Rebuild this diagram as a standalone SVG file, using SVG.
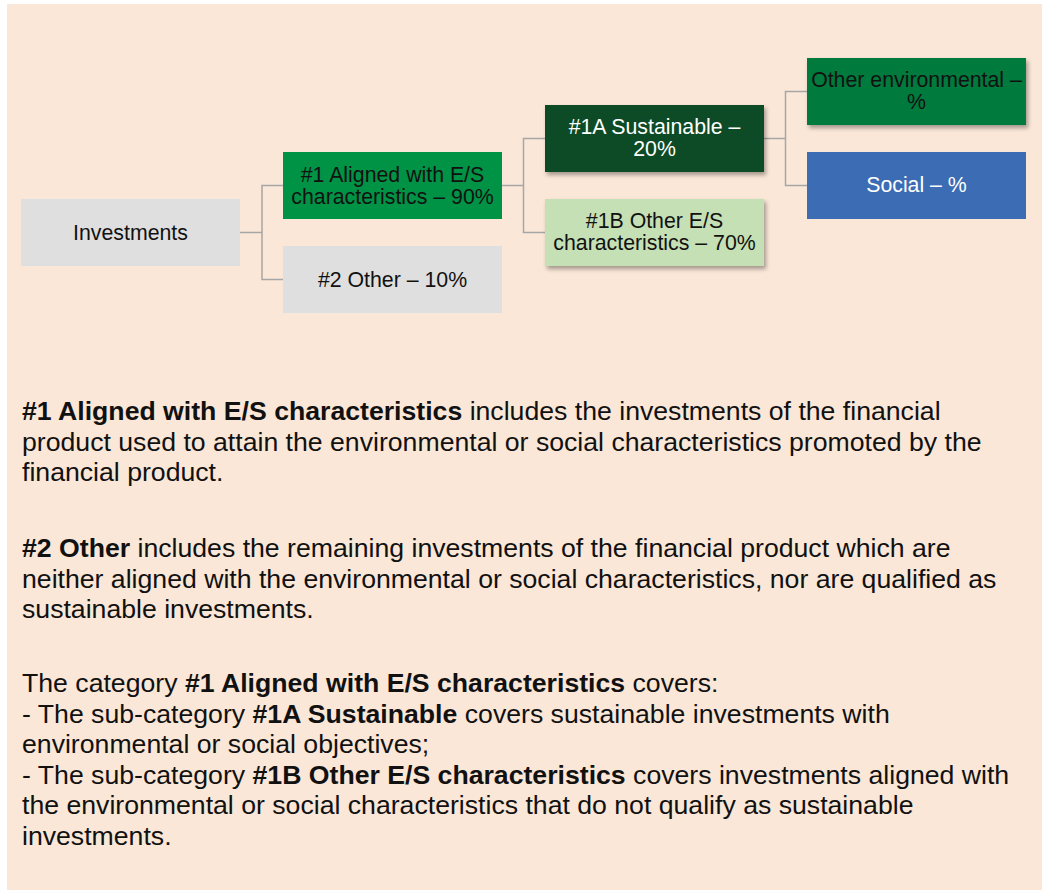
<svg xmlns="http://www.w3.org/2000/svg" width="1042" height="890" viewBox="0 0 1042 890">
  <defs>
    <filter id="shadow" x="-10%" y="-20%" width="130%" height="150%">
      <feDropShadow dx="2" dy="3" stdDeviation="2" flood-color="#000" flood-opacity="0.35"/>
    </filter>
  </defs>
  <style>
    .box { stroke: none; }
    .lbl { font-family: "Liberation Sans", Arial, sans-serif; font-size: 21.3px; text-anchor: middle; fill: #111; }
    .lbl.w { fill: #fff; }
    .body { font-family: "Liberation Sans", Arial, sans-serif; font-size: 26.65px; fill: #111; }
    .b { font-weight: bold; }
    .conn { fill: none; stroke: #A6A6A6; stroke-width: 1.5; }
  </style>
  <rect x="0" y="0" width="1042" height="890" fill="#ffffff"/>
  <rect x="7" y="4" width="1035" height="886" fill="#FAE7D7"/>

  <g id="connectors">
    <polyline class="conn" points="240,232.5 262,232.5"/>
    <polyline class="conn" points="283,185.5 262,185.5 262,279.5 283,279.5"/>
    <polyline class="conn" points="502,185.5 523.5,185.5"/>
    <polyline class="conn" points="545,138.5 523.5,138.5 523.5,232.5 545,232.5"/>
    <polyline class="conn" points="764,138.5 785.5,138.5"/>
    <polyline class="conn" points="807,91.5 785.5,91.5 785.5,185.5 807,185.5"/>
  </g>

  <g id="investments">
    <rect class="box" x="21" y="199" width="219" height="67" fill="#DFDFDF"/>
    <text class="lbl" x="130.5" y="239.5">Investments</text>
  </g>
  <g id="aligned">
    <rect class="box" x="283" y="152" width="219" height="67" fill="#009345"/>
    <text class="lbl" x="392.5" y="181.5">#1 Aligned with E/S</text>
    <text class="lbl" x="392.5" y="203.5">characteristics – 90%</text>
  </g>
  <g id="other">
    <rect class="box" x="283" y="246" width="219" height="67" fill="#DFDFDF"/>
    <text class="lbl" x="392.5" y="286.5">#2 Other – 10%</text>
  </g>
  <g id="sustainable">
    <rect class="box" x="545" y="105" width="219" height="67" fill="#0B4C28" filter="url(#shadow)"/>
    <text class="lbl w" x="654.5" y="134">#1A Sustainable –</text>
    <text class="lbl w" x="654.5" y="156">20%</text>
  </g>
  <g id="other-es">
    <rect class="box" x="545" y="199" width="219" height="67" fill="#C5E0B4" filter="url(#shadow)"/>
    <text class="lbl" x="654.5" y="228">#1B Other E/S</text>
    <text class="lbl" x="654.5" y="250">characteristics – 70%</text>
  </g>
  <g id="other-env">
    <rect class="box" x="807" y="58" width="219" height="67" fill="#057A3D" filter="url(#shadow)"/>
    <text class="lbl" x="916.5" y="87">Other environmental –</text>
    <text class="lbl" x="916.5" y="109">%</text>
  </g>
  <g id="social">
    <rect class="box" x="807" y="152" width="219" height="67" fill="#3B6CB4"/>
    <text class="lbl w" x="916.5" y="192">Social – %</text>
  </g>

  <g id="notes">
    <text class="body" x="22" y="420"><tspan class="b">#1 Aligned with E/S characteristics</tspan> includes the investments of the financial</text>
    <text class="body" x="22" y="450.5">product used to attain the environmental or social characteristics promoted by the</text>
    <text class="body" x="22" y="481">financial product.</text>

    <text class="body" x="22" y="557"><tspan class="b">#2 Other</tspan> includes the remaining investments of the financial product which are</text>
    <text class="body" x="22" y="587.5">neither aligned with the environmental or social characteristics, nor are qualified as</text>
    <text class="body" x="22" y="618">sustainable investments.</text>

    <text class="body" x="22" y="692">The category <tspan class="b">#1 Aligned with E/S characteristics</tspan> covers:</text>
    <text class="body" x="22" y="722.5">- The sub-category <tspan class="b">#1A Sustainable</tspan> covers sustainable investments with</text>
    <text class="body" x="22" y="753">environmental or social objectives;</text>
    <text class="body" x="22" y="783.5">- The sub-category <tspan class="b">#1B Other E/S characteristics</tspan> covers investments aligned with</text>
    <text class="body" x="22" y="814">the environmental or social characteristics that do not qualify as sustainable</text>
    <text class="body" x="22" y="844.5">investments.</text>
  </g>
</svg>
